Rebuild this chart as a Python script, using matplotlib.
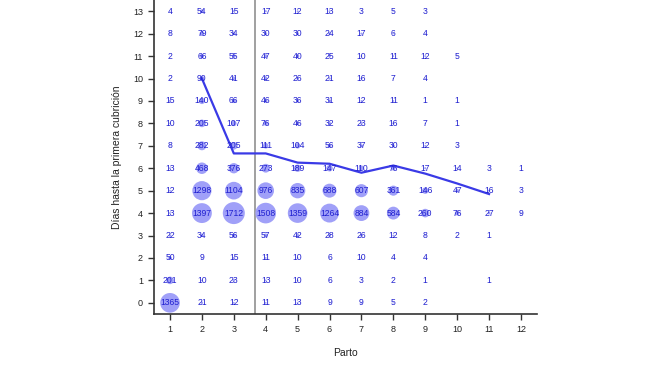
import numpy as np
import matplotlib
matplotlib.use("Agg")
import matplotlib.pyplot as plt

plt.rcParams['font.family'] = ['Liberation Sans', 'DejaVu Sans']

# counts per (parto, dias) cell, rows from dias=0 upwards, columns parto 1..12
partos = list(range(1, 13))
dias = list(range(0, 14))
counts = [
    [1365, 21, 12, 11, 13, 9, 9, 5, 2, None, None, None],        # 0
    [201, 10, 23, 13, 10, 6, 3, 2, 1, None, 1, None],            # 1
    [50, 9, 15, 11, 10, 6, 10, 4, 4, None, None, None],          # 2
    [22, 34, 56, 57, 42, 28, 26, 12, 8, 2, 1, None],             # 3
    [13, 1397, 1712, 1508, 1359, 1264, 884, 584, 260, 76, 27, 9],  # 4
    [12, 1298, 1104, 976, 835, 688, 607, 361, 146, 47, 16, 3],   # 5
    [13, 468, 376, 273, 189, 147, 110, 76, 17, 14, 3, 1],        # 6
    [8, 282, 205, 111, 104, 56, 37, 30, 12, 3, None, None],      # 7
    [10, 205, 107, 76, 46, 32, 23, 16, 7, 1, None, None],        # 8
    [15, 140, 66, 46, 36, 31, 12, 11, 1, 1, None, None],         # 9
    [2, 90, 41, 42, 26, 21, 16, 7, 4, None, None, None],         # 10
    [2, 66, 55, 47, 40, 25, 10, 11, 12, 5, None, None],          # 11
    [8, 79, 34, 30, 30, 24, 17, 6, 4, None, None, None],         # 12
    [4, 54, 15, 17, 12, 13, 3, 5, 3, None, None, None],          # 13
]

# mean line
line_x = [2, 3, 4, 5, 6, 7, 8, 9, 10, 11]
line_y = [10, 6.66, 6.66, 6.25, 6.2, 5.8, 6.12, 5.76, 5.32, 4.85]

split_x = 3.66

fig = plt.figure(figsize=(6.5, 3.66), dpi=100)
ax = fig.add_axes([0.237, 0.142, 0.589, 0.858])

xs, ys, ns = [], [], []
for d, row in zip(dias, counts):
    for p, n in zip(partos, row):
        if n is not None:
            xs.append(p)
            ys.append(d)
            ns.append(n)

ns_arr = np.array(ns, dtype=float)
# bubble area proportional to count (1712 -> diameter ~22 px)
sizes = ns_arr / 1712.0 * (22 * 0.72) ** 2
ax.scatter(xs, ys, s=sizes, color='#a0a0f8', edgecolors='none', zorder=1)

ax.plot(line_x, line_y, color='#3a3ae6', lw=1.6, zorder=2)

for x, y, n in zip(xs, ys, ns):
    ax.text(x, y, str(n), ha='center', va='center', fontsize=6.2,
            color='#2020d0', zorder=3)

ax.axvline(split_x, color='#909090', lw=1.2, zorder=0)

ax.set_xlim(0.5, 12.5)
ax.set_ylim(-0.5, 13.5)
ax.set_xticks(partos)
ax.set_yticks(dias)
ax.tick_params(labelsize=6.5, length=4, width=1, pad=4, color='#333333', labelcolor='#222222')
for s in ['top', 'right']:
    ax.spines[s].set_visible(False)
for s in ['left', 'bottom']:
    ax.spines[s].set_color('#333333')
    ax.spines[s].set_linewidth(1.2)

ax.set_xlabel('Parto', fontsize=7.5, color='#222222', labelpad=10)
ax.set_ylabel('Días hasta la primera cubrición', fontsize=7.5, color='#222222', labelpad=8)

fig.savefig('out.png', dpi=100)
